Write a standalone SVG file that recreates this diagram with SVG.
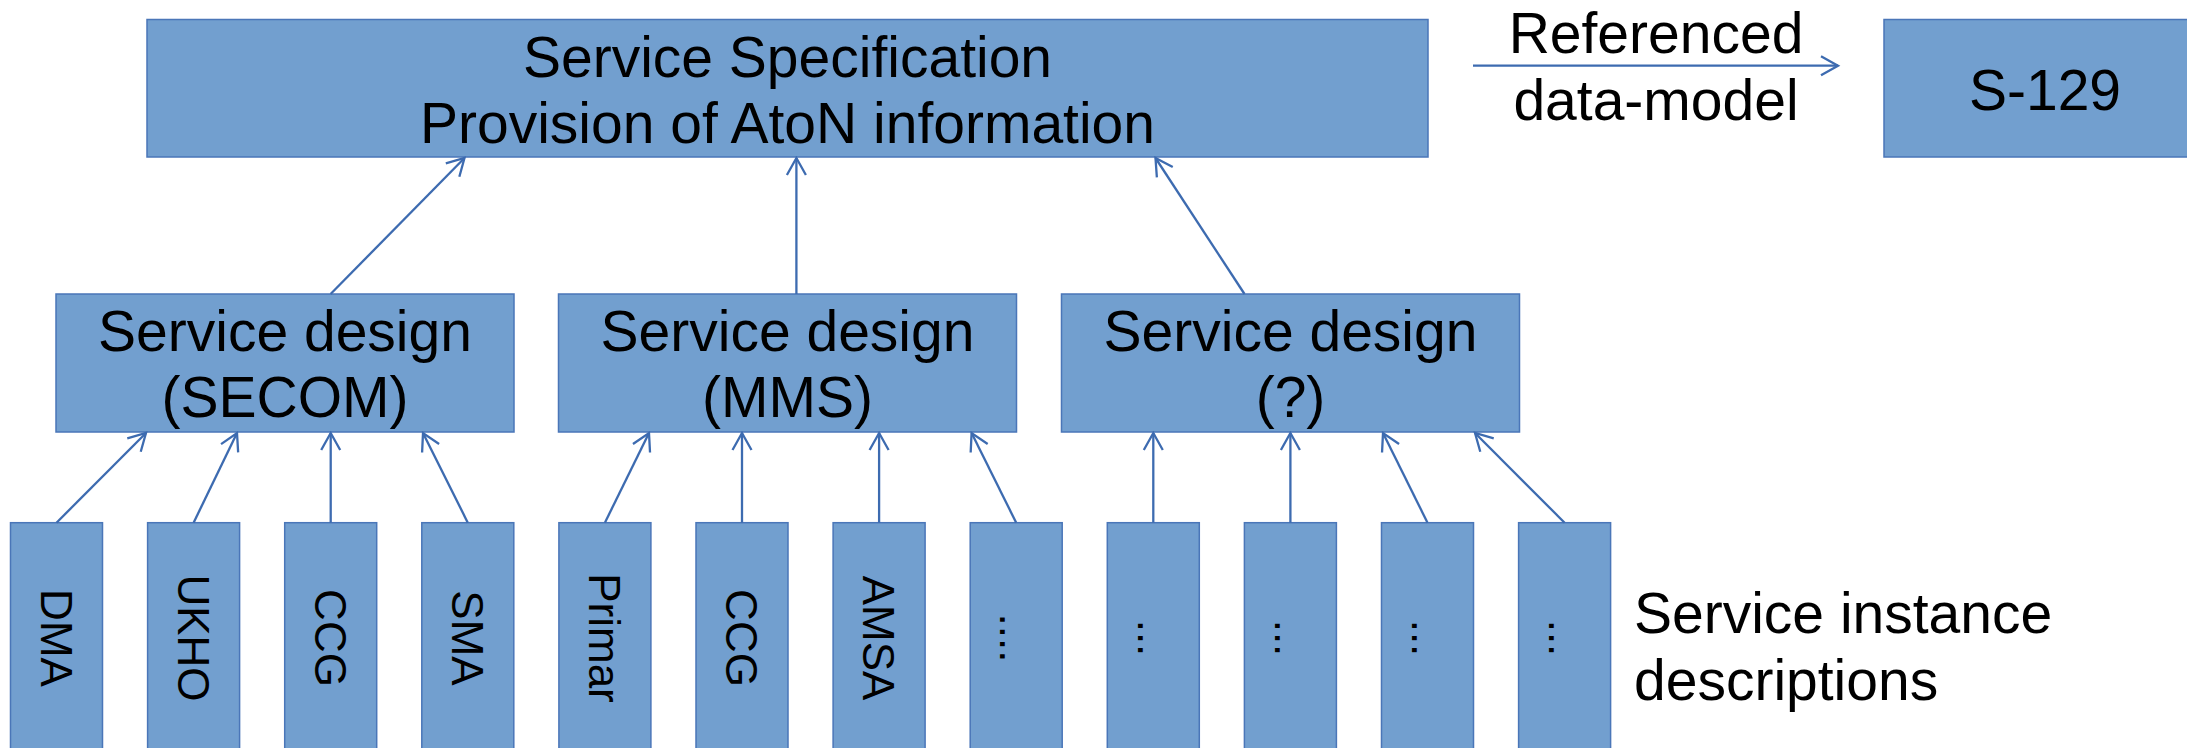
<svg xmlns="http://www.w3.org/2000/svg" width="2187" height="748" viewBox="0 0 2187 748">
<style>
.box{fill:#729FCF;stroke:#4A76B8;stroke-width:1.5}
.t{font-family:"Liberation Sans",Arial,sans-serif;font-size:57px;fill:#000;text-anchor:middle}
.v{font-family:"Liberation Sans",Arial,sans-serif;font-size:44px;fill:#000;text-anchor:middle}
.c{stroke:#3D6BB0;stroke-width:2.3;fill:none;marker-end:url(#ah)}
</style>
<defs>
<marker id="ah" markerUnits="userSpaceOnUse" viewBox="-20 -12 24 24" refX="0" refY="0" markerWidth="24" markerHeight="24" orient="auto" overflow="visible">
<path d="M-17,-9.5 L0,0 L-17,9.5" fill="none" stroke="#3D6BB0" stroke-width="2.3"/>
</marker>
</defs>
<rect width="2187" height="748" fill="#fff"/>
<g id="spec">
<rect class="box" x="147" y="19.5" width="1281" height="137.5"/>
<text class="t" x="787.5" y="76.7">Service Specification</text>
<text class="t" x="787.5" y="143.3">Provision of AtoN information</text>
</g>
<g id="s129">
<rect class="box" x="1884" y="19.5" width="330" height="137.5"/>
<text class="t" x="2045" y="110">S-129</text>
</g>
<g id="ref-label">
<text class="t" x="1656" y="53.3">Referenced</text>
<text class="t" x="1656" y="120">data-model</text>
</g>
<g id="design-secom">
<rect class="box" x="56" y="294" width="458" height="138"/>
<text class="t" x="285" y="350.7">Service design</text>
<text class="t" x="285" y="417.3">(SECOM)</text>
</g>
<g id="design-mms">
<rect class="box" x="558.5" y="294" width="458" height="138"/>
<text class="t" x="787.5" y="350.7">Service design</text>
<text class="t" x="787.5" y="417.3">(MMS)</text>
</g>
<g id="design-unknown">
<rect class="box" x="1061.5" y="294" width="458" height="138"/>
<text class="t" x="1290.5" y="350.7">Service design</text>
<text class="t" x="1290.5" y="417.3">(?)</text>
</g>
<g id="inst-dma"><rect class="box" x="10.5" y="522.7" width="92" height="240"/><text class="v" transform="translate(56.5,638) rotate(90)" y="15.7">DMA</text></g>
<g id="inst-ukho"><rect class="box" x="147.6" y="522.7" width="92" height="240"/><text class="v" transform="translate(193.6,638) rotate(90)" y="15.7">UKHO</text></g>
<g id="inst-ccg1"><rect class="box" x="284.7" y="522.7" width="92" height="240"/><text class="v" transform="translate(330.7,638) rotate(90)" y="15.7">CCG</text></g>
<g id="inst-sma"><rect class="box" x="421.8" y="522.7" width="92" height="240"/><text class="v" transform="translate(467.8,638) rotate(90)" y="15.7">SMA</text></g>
<g id="inst-primar"><rect class="box" x="558.9" y="522.7" width="92" height="240"/><text class="v" transform="translate(604.9,638) rotate(90)" y="15.7">Primar</text></g>
<g id="inst-ccg2"><rect class="box" x="696" y="522.7" width="92" height="240"/><text class="v" transform="translate(742,638) rotate(90)" y="15.7">CCG</text></g>
<g id="inst-amsa"><rect class="box" x="833.1" y="522.7" width="92" height="240"/><text class="v" transform="translate(879.1,638) rotate(90)" y="15.7">AMSA</text></g>
<g id="inst-more1"><rect class="box" x="970.2" y="522.7" width="92" height="240"/><text class="v" transform="translate(1016.2,638) rotate(90)" y="15.7">....</text></g>
<g id="inst-more2"><rect class="box" x="1107.3" y="522.7" width="92" height="240"/><text class="v" transform="translate(1153.3,638) rotate(90)" y="15.7">...</text></g>
<g id="inst-more3"><rect class="box" x="1244.4" y="522.7" width="92" height="240"/><text class="v" transform="translate(1290.4,638) rotate(90)" y="15.7">...</text></g>
<g id="inst-more4"><rect class="box" x="1381.5" y="522.7" width="92" height="240"/><text class="v" transform="translate(1427.5,638) rotate(90)" y="15.7">...</text></g>
<g id="inst-more5"><rect class="box" x="1518.6" y="522.7" width="92" height="240"/><text class="v" transform="translate(1564.6,638) rotate(90)" y="15.7">...</text></g>
<g id="inst-label">
<text class="t" x="1634" y="633.3" style="text-anchor:start">Service instance</text>
<text class="t" x="1634" y="700" style="text-anchor:start">descriptions</text>
</g>
<g id="connectors">
<line class="c" x1="1473" y1="65.7" x2="1838" y2="65.7"/>
<line class="c" x1="330.6" y1="294" x2="464.5" y2="158"/>
<line class="c" x1="796.4" y1="294" x2="796.4" y2="158"/>
<line class="c" x1="1244.5" y1="294" x2="1155.5" y2="158"/>
<line class="c" x1="56.5" y1="522.7" x2="146" y2="433"/>
<line class="c" x1="193.6" y1="522.7" x2="237" y2="433"/>
<line class="c" x1="330.7" y1="522.7" x2="330.7" y2="433"/>
<line class="c" x1="467.8" y1="522.7" x2="423" y2="433"/>
<line class="c" x1="604.9" y1="522.7" x2="649" y2="433"/>
<line class="c" x1="742" y1="522.7" x2="742" y2="433"/>
<line class="c" x1="879.1" y1="522.7" x2="879.1" y2="433"/>
<line class="c" x1="1016.2" y1="522.7" x2="971.6" y2="433"/>
<line class="c" x1="1153.3" y1="522.7" x2="1153.3" y2="433"/>
<line class="c" x1="1290.4" y1="522.7" x2="1290.4" y2="433"/>
<line class="c" x1="1427.5" y1="522.7" x2="1383" y2="433"/>
<line class="c" x1="1564.6" y1="522.7" x2="1475" y2="433"/>
</g>
</svg>
